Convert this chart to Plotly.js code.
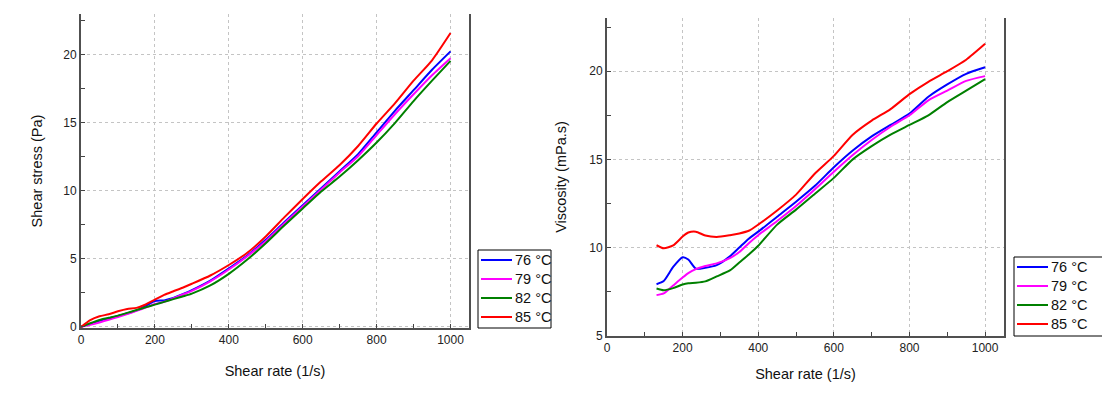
<!DOCTYPE html>
<html>
<head>
<meta charset="utf-8">
<script src="https://cdn.plot.ly/plotly-3.0.1.min.js"></script>
<style>html,body{margin:0;padding:0;background:#fff;overflow:hidden;}#chart{width:1102px;height:395px;}</style>
</head>
<body>
<div id="chart"></div>
<script>
// ---- Data ----
const seriesNames = ["76 °C", "79 °C", "82 °C", "85 °C"];
const seriesColors = ["#0000ff", "#ff00ff", "#008000", "#ff0000"];

// Left panel: shear stress (Pa) vs shear rate (1/s)
const rateStress = [0, 25, 50, 75, 100, 125, 150, 175, 200, 225, 250, 275, 300, 350, 400, 450, 500, 550, 600, 650, 700, 750, 800, 850, 900, 950, 1000];
const stress76 = [0, 0.22, 0.45, 0.62, 0.80, 1.00, 1.20, 1.55, 1.90, 1.95, 2.12, 2.40, 2.70, 3.40, 4.30, 5.25, 6.40, 7.70, 8.95, 10.20, 11.45, 12.70, 14.30, 15.90, 17.40, 18.90, 20.25];
const stress79 = [0, 0.15, 0.33, 0.53, 0.73, 0.95, 1.18, 1.42, 1.68, 1.85, 2.10, 2.38, 2.65, 3.35, 4.22, 5.20, 6.30, 7.60, 8.85, 10.10, 11.35, 12.55, 14.10, 15.65, 17.10, 18.50, 19.75];
const stress82 = [0, 0.27, 0.51, 0.67, 0.83, 1.03, 1.24, 1.44, 1.64, 1.84, 2.04, 2.24, 2.45, 3.05, 3.90, 4.95, 6.15, 7.45, 8.70, 9.95, 11.05, 12.25, 13.55, 15.00, 16.60, 18.10, 19.55];
const stress85 = [0, 0.50, 0.78, 0.93, 1.15, 1.32, 1.40, 1.65, 2.00, 2.35, 2.62, 2.88, 3.17, 3.78, 4.55, 5.45, 6.65, 8.05, 9.40, 10.70, 11.90, 13.30, 14.95, 16.45, 18.10, 19.60, 21.60];

// Right panel: viscosity (mPa.s) vs shear rate (1/s)
const rateVisc = [131, 150, 175, 200, 215, 235, 260, 290, 325, 350, 375, 400, 450, 500, 550, 600, 650, 700, 750, 800, 850, 900, 950, 1000];
const visc76 = [7.92, 8.10, 8.90, 9.45, 9.32, 8.80, 8.85, 9.00, 9.50, 10.00, 10.50, 10.90, 11.75, 12.60, 13.50, 14.55, 15.50, 16.30, 16.95, 17.60, 18.55, 19.25, 19.85, 20.22];
const visc79 = [7.30, 7.40, 7.85, 8.30, 8.55, 8.78, 8.95, 9.10, 9.40, 9.75, 10.25, 10.70, 11.50, 12.35, 13.30, 14.30, 15.25, 16.10, 16.85, 17.50, 18.35, 18.90, 19.45, 19.72];
const visc82 = [7.68, 7.58, 7.70, 7.90, 7.97, 8.00, 8.08, 8.36, 8.70, 9.15, 9.60, 10.10, 11.30, 12.15, 13.05, 13.95, 15.00, 15.75, 16.40, 16.95, 17.50, 18.25, 18.90, 19.55];
const visc85 = [10.13, 9.96, 10.12, 10.62, 10.85, 10.90, 10.68, 10.60, 10.70, 10.80, 10.95, 11.30, 12.10, 13.00, 14.20, 15.20, 16.40, 17.20, 17.85, 18.70, 19.40, 20.00, 20.65, 21.55];

const xTitle = "Shear rate (1/s)";
const yTitleLeft = "Shear stress (Pa)";
const yTitleRight = "Viscosity (mPa.s)";

// ---- Geometry helpers ----
const W = 1102, H = 395;
const px = v => v / W;
const py = v => 1 - v / H;

// ---- Build traces ----
const stressSets = [stress76, stress79, stress82, stress85];
const viscSets = [visc76, visc79, visc82, visc85];
const traces = [];
stressSets.forEach((ys, i) => traces.push({
  x: rateStress, y: ys, type: "scatter", mode: "lines", name: seriesNames[i],
  line: {color: seriesColors[i], width: 2, shape: "spline", smoothing: 0.6},
  xaxis: "x", yaxis: "y", showlegend: false
}));
viscSets.forEach((ys, i) => traces.push({
  x: rateVisc, y: ys, type: "scatter", mode: "lines", name: seriesNames[i],
  line: {color: seriesColors[i], width: 2, shape: "spline", smoothing: 0.6},
  xaxis: "x2", yaxis: "y2", showlegend: false
}));

const FONT = "Liberation Sans, Arial, sans-serif";
const axisCommon = {
  showline: true, linecolor: "#505050", linewidth: 2,
  ticks: "inside", ticklen: 4, tickwidth: 1, tickcolor: "#444",
  showgrid: true, gridcolor: "#c4c4c4", gridwidth: 1, griddash: "dot",
  zeroline: false,
  tickfont: {family: FONT, size: 12, color: "#222"},
  automargin: false
};
function xAxis(domain, anchor, standoff) {
  return Object.assign({}, axisCommon, {
    domain: domain, anchor: anchor, range: [0, 1050], dtick: 200, tick0: 0,
    minor: {dtick: 100, ticks: "inside", ticklen: 4, tickcolor: "#444", showgrid: false},
    mirror: false,
    title: {text: xTitle, font: {family: FONT, size: 14.5, color: "#111"}, standoff: standoff}
  });
}
function yAxis(domain, anchor, range, title, standoff) {
  return Object.assign({}, axisCommon, {
    domain: domain, anchor: anchor, range: range, dtick: 5, tick0: 0,
    minor: {dtick: 2.5, ticks: "inside", ticklen: 4, tickcolor: "#444", showgrid: false},
    mirror: true,
    title: {text: title, font: {family: FONT, size: 14.5, color: "#111"}, standoff: standoff}
  });
}

// ---- Legends (one per panel) built from seriesNames / seriesColors ----
const shapes = [];
const annotations = [];
function addLegend(left, top, right, bottom) {
  shapes.push({type: "rect", xref: "paper", yref: "paper",
    x0: px(left), x1: px(right), y0: py(bottom), y1: py(top),
    line: {color: "#000", width: 1}, fillcolor: "#fff", layer: "above"});
  seriesNames.forEach((name, i) => {
    const yy = top + 10 + 19 * i;
    shapes.push({type: "line", xref: "paper", yref: "paper",
      x0: px(left + 3), x1: px(left + 34), y0: py(yy), y1: py(yy),
      line: {color: seriesColors[i], width: 2}, layer: "above"});
    annotations.push({xref: "paper", yref: "paper", x: px(left + 35), y: py(yy),
      xanchor: "left", yanchor: "middle", showarrow: false, text: name,
      font: {family: FONT, size: 14.5, color: "#111"}});
  });
}
addLegend(478, 250, 551, 328);
addLegend(1014, 257, 1106, 336);

const layout = {
  width: W, height: H, autosize: false,
  margin: {l: 0, r: 0, t: 0, b: 0, pad: 0},
  paper_bgcolor: "#ffffff", plot_bgcolor: "#ffffff",
  font: {family: FONT, size: 12, color: "#222"},
  xaxis: xAxis([px(81), px(469)], "y", 19),
  yaxis: yAxis([py(328), py(14)], "x", [-0.08, 23], yTitleLeft, 17),
  xaxis2: xAxis([px(607), px(1004)], "y2", 15),
  yaxis2: yAxis([py(335.7), py(18.3)], "x2", [5, 23], yTitleRight, 19),
  shapes: shapes,
  annotations: annotations,
  showlegend: false
};

Plotly.newPlot("chart", traces, layout, {displayModeBar: false, staticPlot: true});
</script>
</body>
</html>
